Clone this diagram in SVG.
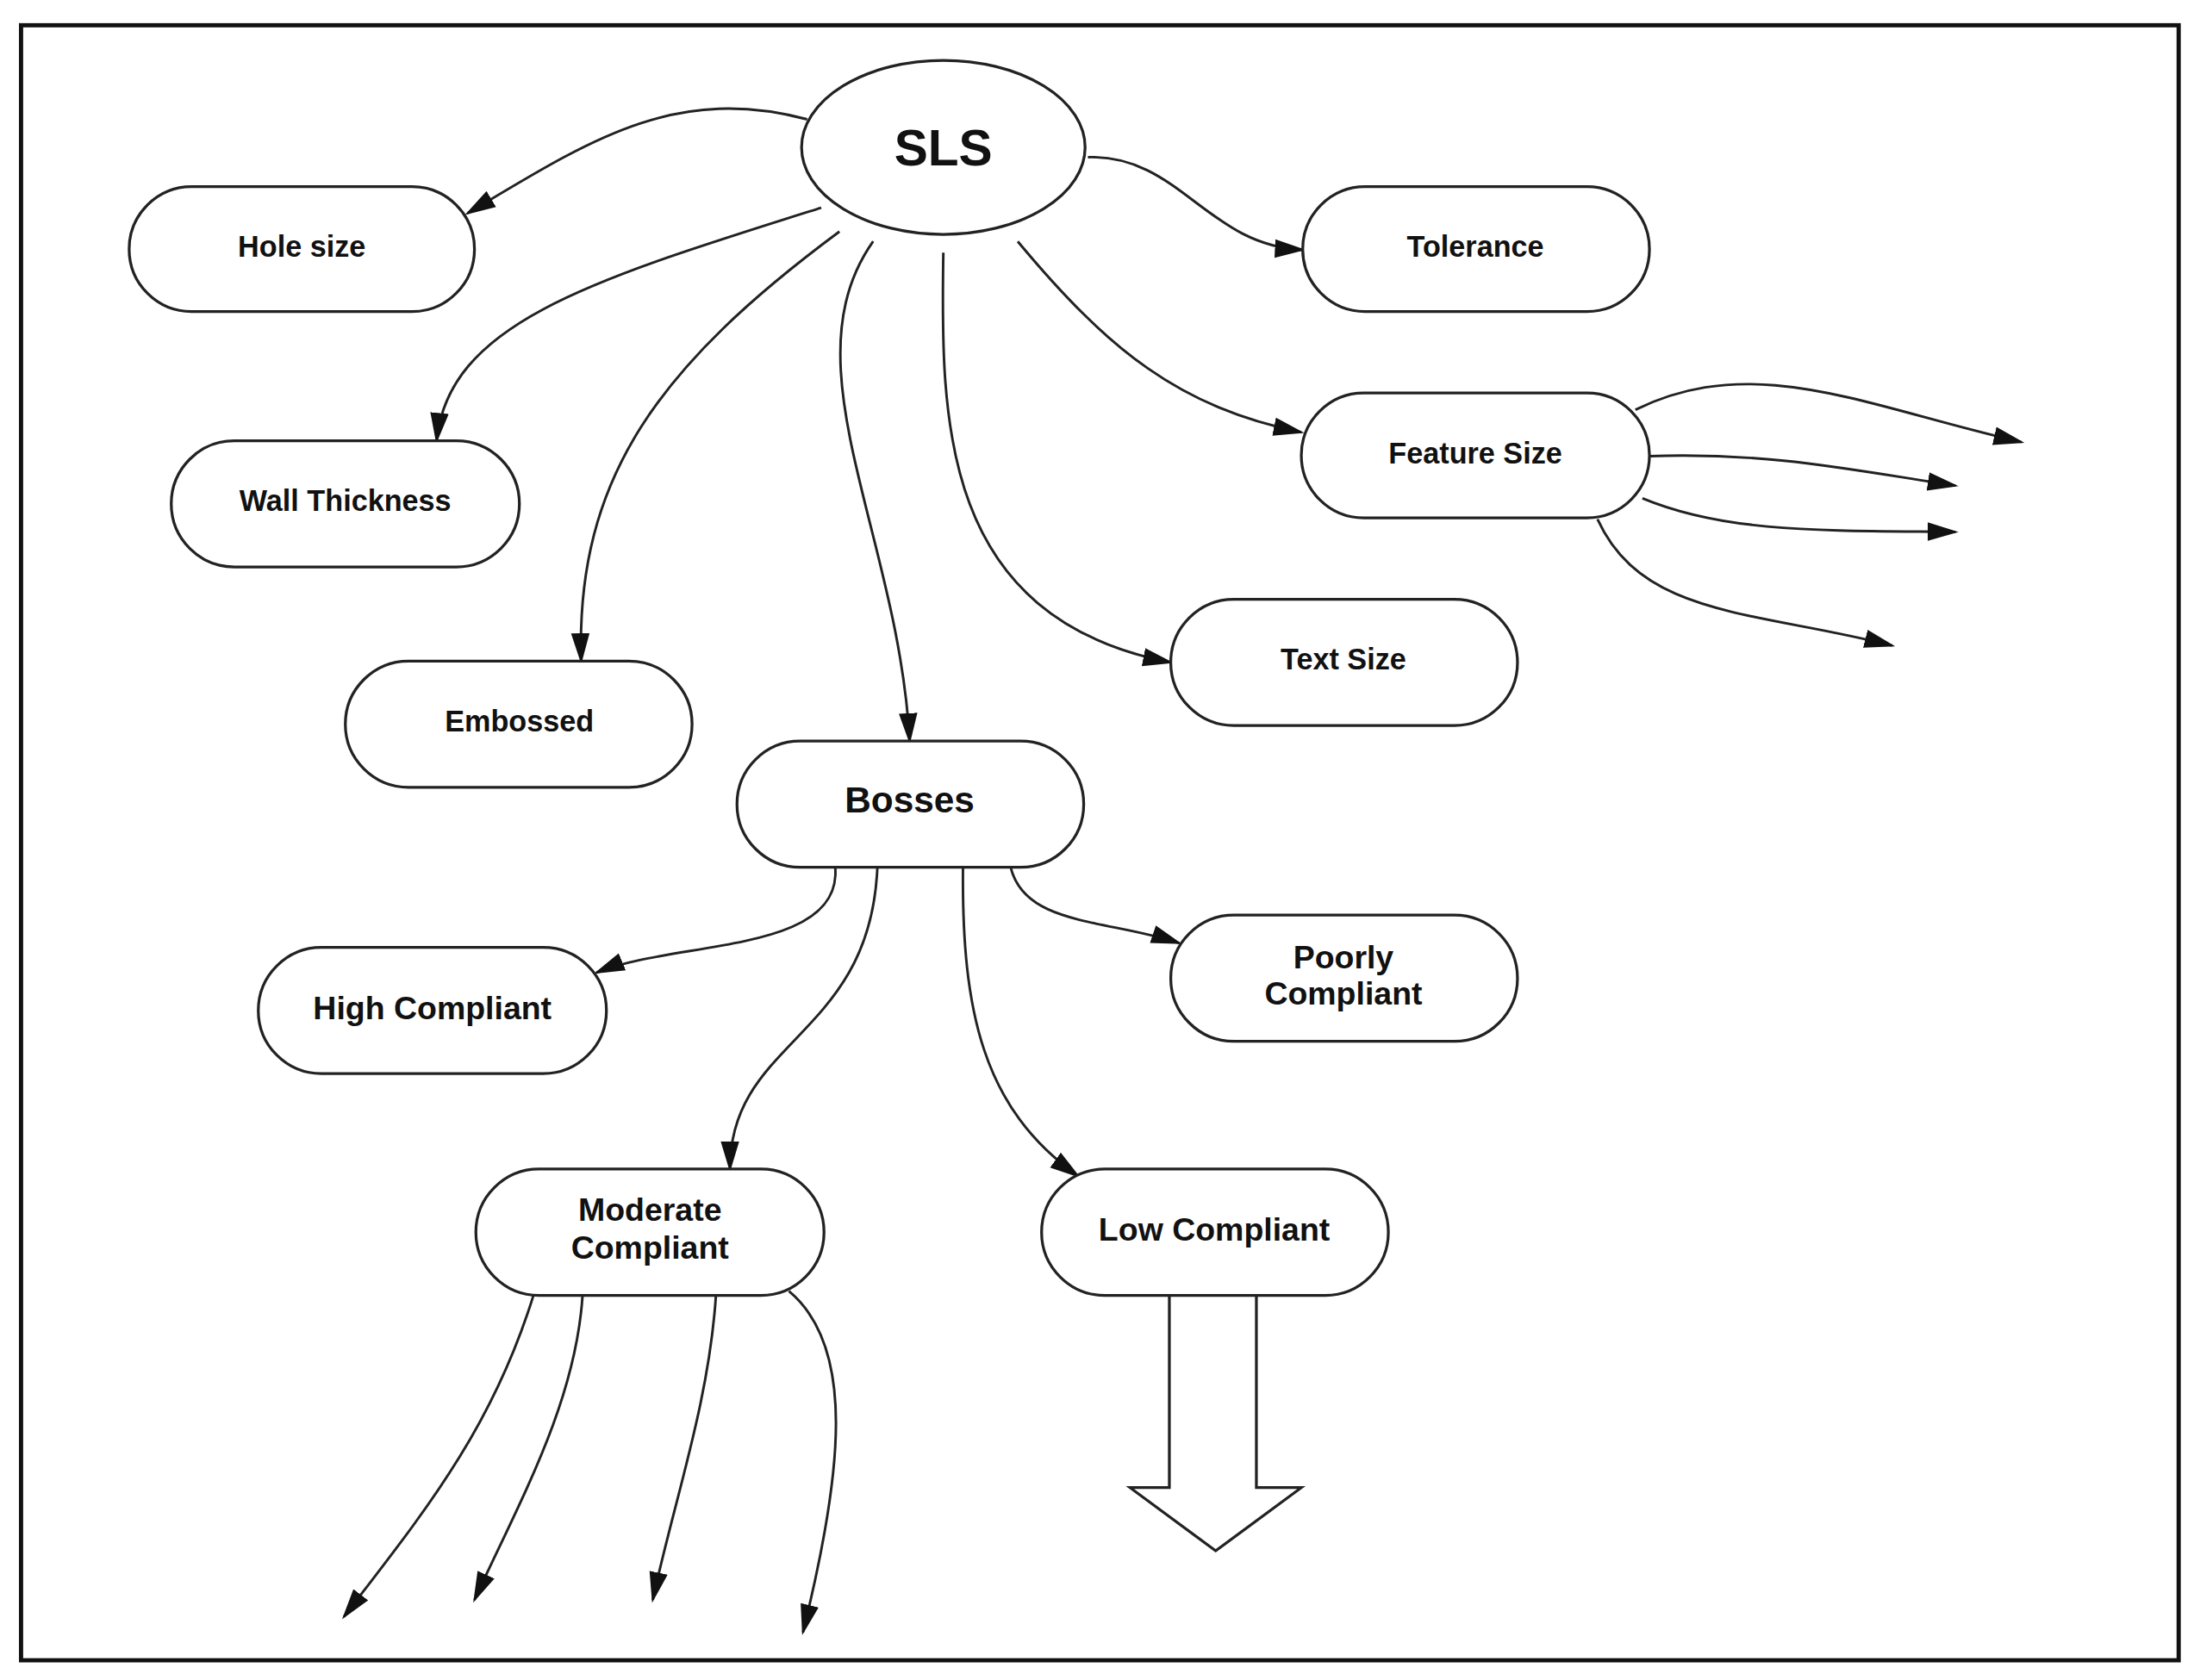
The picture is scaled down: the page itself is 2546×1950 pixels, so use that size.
<svg xmlns="http://www.w3.org/2000/svg" width="2546" height="1950" viewBox="0 0 2546 1950">
<style>
.n{fill:#fff;stroke:#222;stroke-width:2}
.t{font-family:"Liberation Sans",Arial,sans-serif;font-weight:bold;font-size:21px;fill:#111;text-anchor:middle}
.e{fill:none;stroke:#222;stroke-width:1.8}
</style>
<defs><marker id="a" viewBox="0 0 10 10" refX="9" refY="5" markerWidth="12" markerHeight="12" markerUnits="userSpaceOnUse" orient="auto"><path d="M0,1 L10,5 L0,9 z" fill="#111"/></marker>
<marker id="b" viewBox="0 0 10 10" refX="9" refY="5" markerWidth="22" markerHeight="22" markerUnits="userSpaceOnUse" orient="auto"><path d="M0,2 L10,5 L0,8 z" fill="#111"/></marker></defs>
<rect width="2546" height="1950" fill="#fff"/>
<g transform="scale(1.629)">
<rect x="15" y="18" width="1537" height="1165" fill="none" stroke="#111" stroke-width="3"/>
<g id="connectors" marker-end="url(#b)">
<path class="e" d="M575,85 C480,60 420,100 333,152"/>
<path class="e" d="M775,112 C840,110 860,175 928,178"/>
<path class="e" d="M585,148 C420,200 320,230 311,314"/>
<path class="e" d="M598,165 C470,260 410,340 414,471"/>
<path class="e" d="M622,172 C560,260 640,380 648,528"/>
<path class="e" d="M672,180 C670,300 670,440 834,472"/>
<path class="e" d="M725,172 C790,250 840,290 927,308"/>
<path class="e" d="M1165,292 C1250,250 1330,290 1440,315"/>
<path class="e" d="M1175,325 C1260,322 1320,335 1393,346"/>
<path class="e" d="M1170,355 C1230,380 1300,378 1393,379"/>
<path class="e" d="M1138,370 C1170,440 1250,435 1348,460"/>
<path class="e" d="M595,618 C600,680 480,670 425,693"/>
<path class="e" d="M720,618 C730,660 790,655 840,672"/>
<path class="e" d="M625,618 C620,740 520,740 520,833"/>
<path class="e" d="M686,618 C685,720 700,790 768,838"/>
<path class="e" d="M380,923 C350,1020 300,1080 245,1152"/>
<path class="e" d="M415,923 C410,1000 370,1070 338,1140"/>
<path class="e" d="M510,923 C505,1000 480,1070 465,1140"/>
<path class="e" d="M562,920 C610,960 600,1050 572,1163"/>
</g>
<g id="bigarrow"><path d="M833,923 V1060 H805 L866,1105 L927,1060 H895 V923" fill="#fff" stroke="#222" stroke-width="2"/></g>
<g id="sls"><ellipse class="n" cx="672" cy="105" rx="101" ry="62"/><text class="t" x="672" y="118" style="font-size:36px">SLS</text></g>
<g id="hole"><rect class="n" x="92" y="133" width="246" height="89" rx="44.5"/><text class="t" x="215" y="183">Hole size</text></g>
<g id="tol"><rect class="n" x="928" y="133" width="247" height="89" rx="44.5"/><text class="t" x="1051" y="183">Tolerance</text></g>
<g id="wall"><rect class="n" x="122" y="314" width="248" height="90" rx="45"/><text class="t" x="246" y="364">Wall Thickness</text></g>
<g id="feat"><rect class="n" x="927" y="280" width="248" height="89" rx="44.5"/><text class="t" x="1051" y="330">Feature Size</text></g>
<g id="text"><rect class="n" x="834" y="427" width="247" height="90" rx="45"/><text class="t" x="957" y="477">Text Size</text></g>
<g id="emb"><rect class="n" x="246" y="471" width="247" height="90" rx="45"/><text class="t" x="370" y="521">Embossed</text></g>
<g id="bosses"><rect class="n" x="525" y="528" width="247" height="90" rx="45"/><text class="t" x="648" y="579" style="font-size:26px">Bosses</text></g>
<g id="high"><rect class="n" x="184" y="675" width="248" height="90" rx="45"/><text class="t" x="308" y="726" style="font-size:23px">High Compliant</text></g>
<g id="poor"><rect class="n" x="834" y="652" width="247" height="90" rx="45"/><text class="t" x="957" y="690" style="font-size:23px">Poorly</text><text class="t" x="957" y="716" style="font-size:23px">Compliant</text></g>
<g id="mod"><rect class="n" x="339" y="833" width="248" height="90" rx="45"/><text class="t" x="463" y="870" style="font-size:23px">Moderate</text><text class="t" x="463" y="897" style="font-size:23px">Compliant</text></g>
<g id="low"><rect class="n" x="742" y="833" width="247" height="90" rx="45"/><text class="t" x="865" y="884" style="font-size:23px">Low Compliant</text></g>
</g>
</svg>
